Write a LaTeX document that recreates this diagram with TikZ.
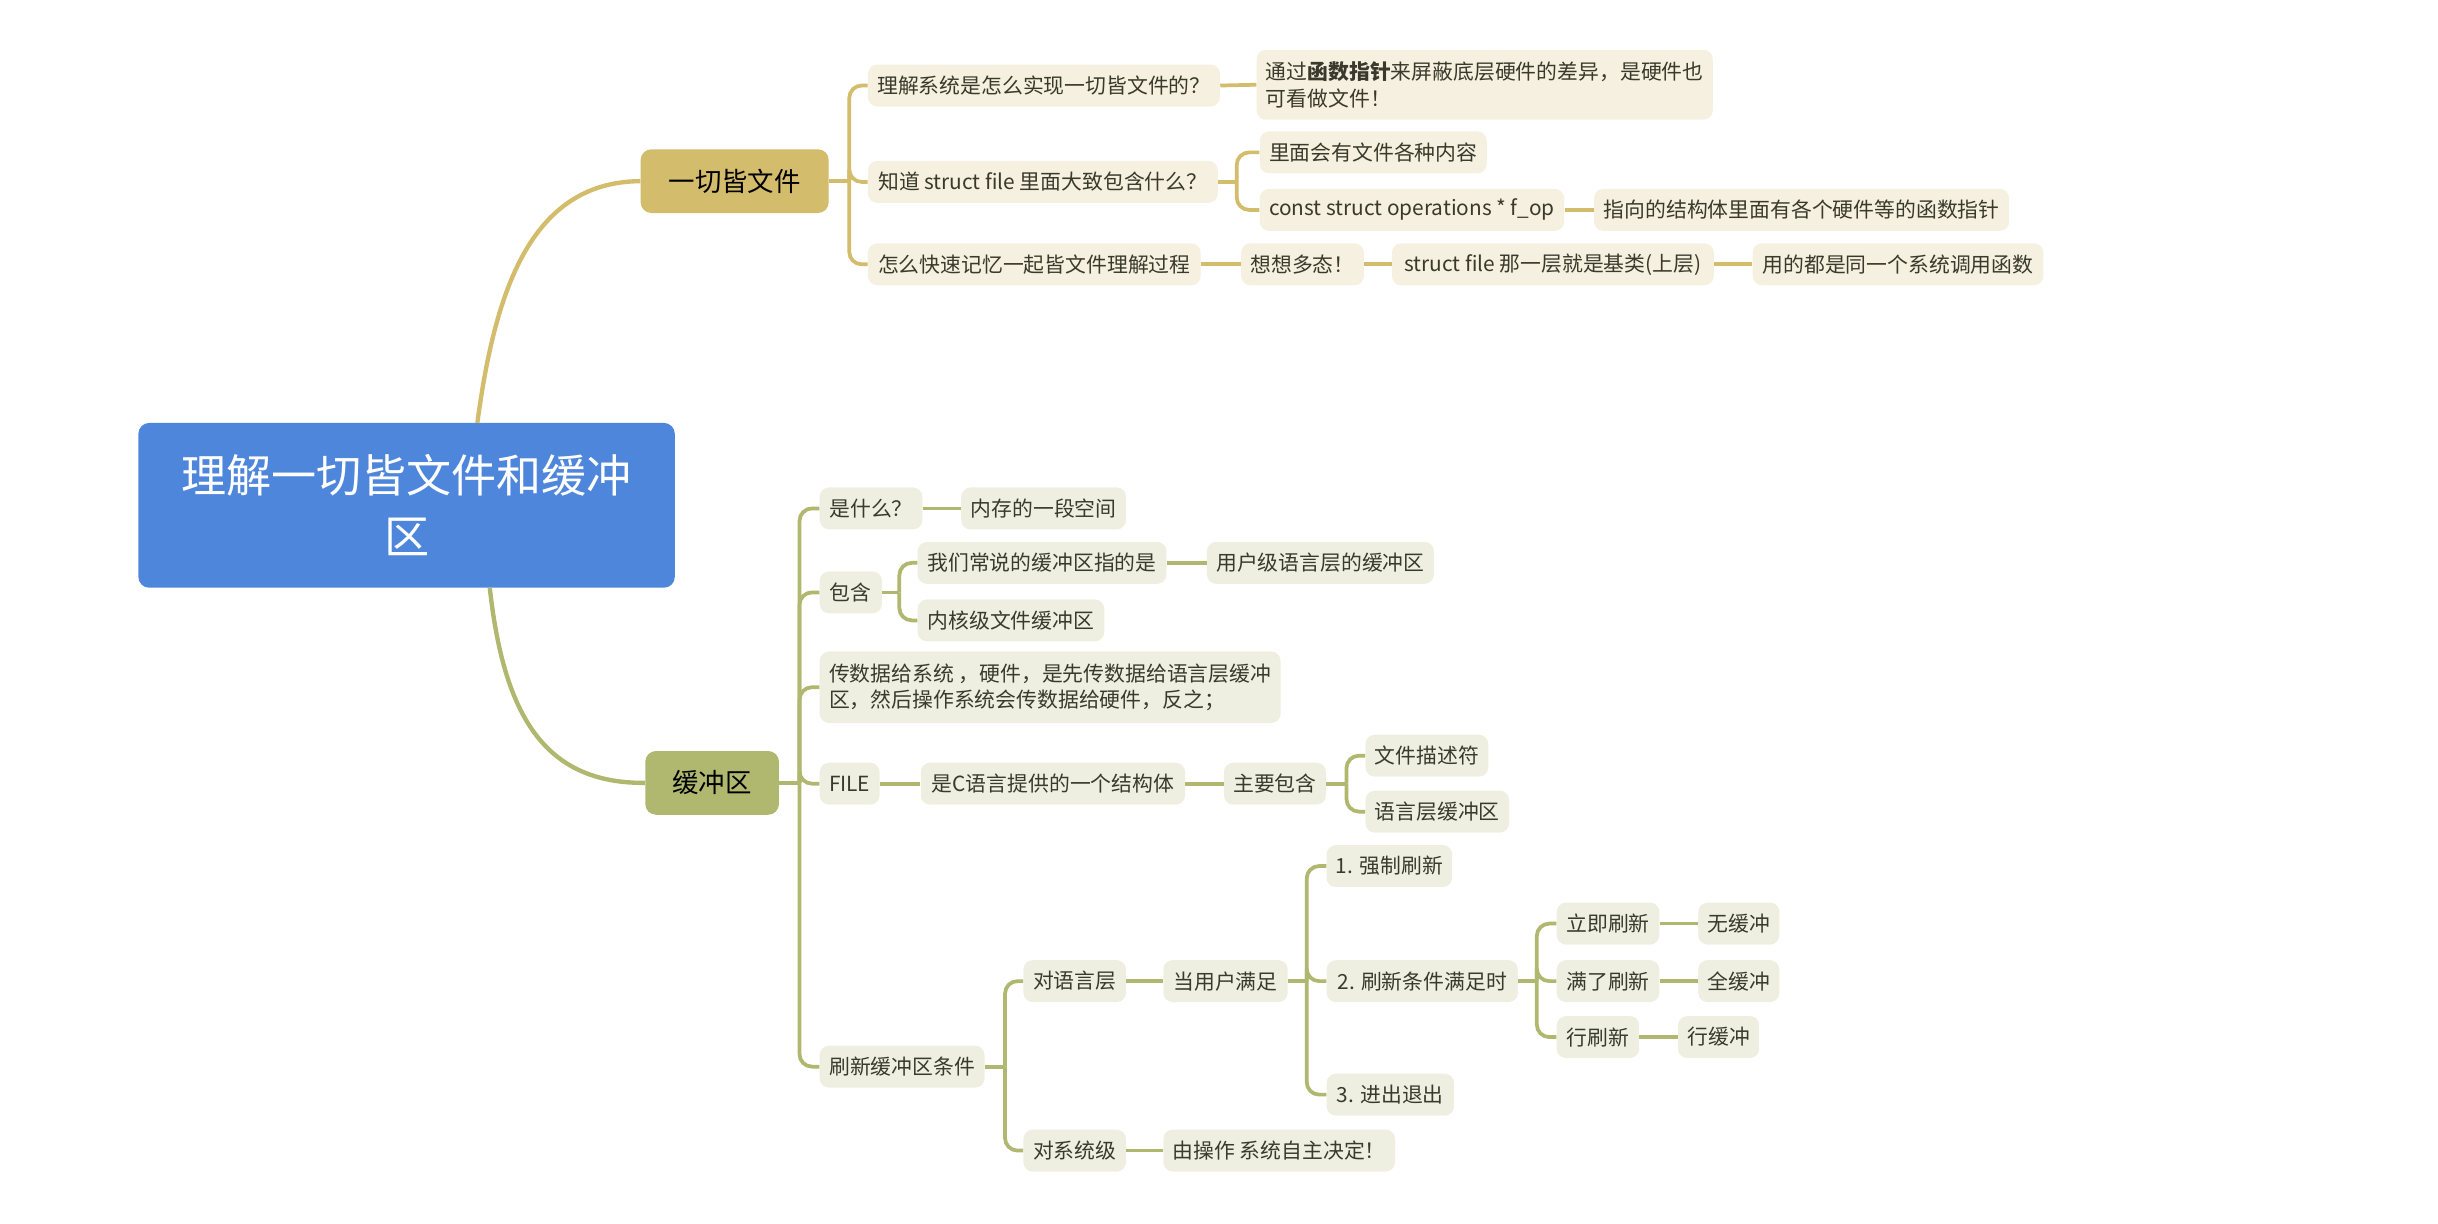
\documentclass[tikz,border=0pt]{standalone}
\usepackage{fontspec}
\setmainfont{Noto Sans CJK SC}
\definecolor{gold}{HTML}{D3BC6C}
\definecolor{olive}{HTML}{B0B76E}
\definecolor{gcream}{HTML}{F5F0DF}
\definecolor{ocream}{HTML}{EFEFE1}
\definecolor{txt}{HTML}{3A3A2C}
\definecolor{rootblue}{HTML}{4E86DB}
\tikzset{
  base/.style={rounded corners=6pt, minimum height=27pt, inner xsep=6pt, inner ysep=2pt, anchor=west, text=txt, font=\fontsize{13.4}{17}\selectfont, align=left},
  gb/.style={base, fill=gcream},
  ob/.style={base, fill=ocream},
  gl/.style={draw=gold, line width=2.4pt, rounded corners=8pt},
  ol/.style={draw=olive, line width=2.4pt, rounded corners=8pt},
}
\begin{document}
\begin{tikzpicture}[x=1pt,y=-1pt]
\useasboundingbox (0,0) rectangle (1568,787);
% root and main
\node[fill=rootblue, rounded corners=7pt, minimum width=345pt, minimum height=106pt, text=white, align=center, font=\fontsize{29}{39}\selectfont] (root) at (261.5,325) {理解一切皆文件和缓冲\\区};
\node[fill=gold, rounded corners=7pt, minimum width=121pt, minimum height=41pt, text=black, font=\fontsize{17}{20}\selectfont] (m1) at (472.5,116.5) {一切皆文件};
\node[fill=olive, rounded corners=7pt, minimum width=86pt, minimum height=41pt, text=black, font=\fontsize{17}{20}\selectfont] (m2) at (458,503.5) {缓冲区};
\coordinate (rt) at (307,272);
\coordinate (rb) at (315,378);
\draw[draw=gold, line width=2.8pt] (rt) .. controls (318,190) and (340,117) .. (m1.west);
\draw[draw=olive, line width=2.8pt] (rb) .. controls (324,460) and (350,504) .. (m2.west);

% gold branch
\node[gb, minimum width=224pt] (g1) at (558,55) {理解系统是怎么实现一切皆文件的？};
\node[gb, minimum width=292pt, minimum height=45pt] (g1a) at (808,54.5) {通过\textbf{函数指针}来屏蔽底层硬件的差异，是硬件也\\可看做文件！};
\node[gb, minimum width=225pt] (g2) at (558,117) {知道 struct file 里面大致包含什么？};
\node[gb, minimum width=146pt] (g2a) at (810,98) {里面会有文件各种内容};
\node[gb, minimum width=190pt] (g2b) at (810,135) {const struct operations * f\_op};
\node[gb, minimum width=267pt] (g2b1) at (1025,135) {指向的结构体里面有各个硬件等的函数指针};
\node[gb, minimum width=214pt] (g3) at (558,170) {怎么快速记忆一起皆文件理解过程};
\node[gb, minimum width=72pt] (g3a) at (798,170) {想想多态！};
\node[gb, minimum width=207pt] (g3b) at (895,170) {struct file 那一层就是基类(上层)};
\node[gb, minimum width=187pt] (g3c) at (1127,170) {用的都是同一个系统调用函数};

\draw[gl] (m1.east) -- ++(13,0) coordinate (jm1);
\foreach \c in {g1,g2,g3} \draw[gl] (jm1) |- (\c.west);
\draw[gl] (g1.east) -- (g1a.west);
\draw[gl] (g2.east) -- ++(12,0) coordinate (jg2);
\foreach \c in {g2a,g2b} \draw[gl] (jg2) |- (\c.west);
\draw[gl] (g2b.east) -- (g2b1.west);
\draw[gl] (g3.east) -- (g3a.west);
\draw[gl] (g3a.east) -- (g3b.west);
\draw[gl] (g3b.east) -- (g3c.west);

% olive branch
\node[ob, minimum width=66pt] (o1) at (527,327) {是什么？};
\node[ob, minimum width=106pt] (o1a) at (618,327) {内存的一段空间};
\node[ob, minimum width=40pt] (o2) at (527,381) {包含};
\node[ob, minimum width=160pt] (o2a) at (590,362) {我们常说的缓冲区指的是};
\node[ob, minimum width=145pt] (o2a1) at (776,362) {用户级语言层的缓冲区};
\node[ob, minimum width=120pt] (o2b) at (590,399) {内核级文件缓冲区};
\node[ob, minimum width=292pt, minimum height=46pt] (o3) at (527,442) {传数据给系统 ，硬件，是先传数据给语言层缓冲\\区，然后操作系统会传数据给硬件，反之；};
\node[ob, minimum width=38pt] (o4) at (527,504) {FILE};
\node[ob, minimum width=170pt] (o4a) at (592,504) {是C语言提供的一个结构体};
\node[ob, minimum width=65pt] (o4b) at (787,504) {主要包含};
\node[ob, minimum width=79pt] (o4b1) at (878,486) {文件描述符};
\node[ob, minimum width=92pt] (o4b2) at (878,522) {语言层缓冲区};
\node[ob, minimum width=106pt] (o5) at (527,686) {刷新缓冲区条件};
\node[ob, minimum width=66pt] (o5a) at (658,631) {对语言层};
\node[ob, minimum width=80pt] (o5a1) at (748,631) {当用户满足};
\node[ob, minimum width=80pt] (p1) at (853,557) {1. 强制刷新};
\node[ob, minimum width=123pt] (p2) at (853,631) {2. 刷新条件满足时};
\node[ob, minimum width=82pt] (p3) at (853,704) {3. 进出退出};
\node[ob, minimum width=66pt] (q1) at (1001,594) {立即刷新};
\node[ob, minimum width=52pt] (q1a) at (1092,594) {无缓冲};
\node[ob, minimum width=66pt] (q2) at (1001,631) {满了刷新};
\node[ob, minimum width=52pt] (q2a) at (1092,631) {全缓冲};
\node[ob, minimum width=53pt] (q3) at (1001,667) {行刷新};
\node[ob, minimum width=52pt] (q3a) at (1079,667) {行缓冲};
\node[ob, minimum width=66pt] (o5b) at (658,740) {对系统级};
\node[ob, minimum width=143pt] (o5b1) at (748,740) {由操作 系统自主决定！};

\draw[ol] (m2.east) -- ++(13,0) coordinate (jm2);
\foreach \c in {o1,o2,o3,o4,o5} \draw[ol] (jm2) |- (\c.west);
\draw[ol] (o1.east) -- (o1a.west);
\draw[ol] (o2.east) -- ++(11,0) coordinate (jo2);
\foreach \c in {o2a,o2b} \draw[ol] (jo2) |- (\c.west);
\draw[ol] (o2a.east) -- (o2a1.west);
\draw[ol] (o4.east) -- (o4a.west);
\draw[ol] (o4a.east) -- (o4b.west);
\draw[ol] (o4b.east) -- ++(13,0) coordinate (jo4b);
\foreach \c in {o4b1,o4b2} \draw[ol] (jo4b) |- (\c.west);
\draw[ol] (o5.east) -- ++(13,0) coordinate (jo5);
\foreach \c in {o5a,o5b} \draw[ol] (jo5) |- (\c.west);
\draw[ol] (o5a.east) -- (o5a1.west);
\draw[ol] (o5a1.east) -- ++(12,0) coordinate (jp);
\foreach \c in {p1,p2,p3} \draw[ol] (jp) |- (\c.west);
\draw[ol] (p2.east) -- ++(12,0) coordinate (jq);
\foreach \c in {q1,q2,q3} \draw[ol] (jq) |- (\c.west);
\draw[ol] (q1.east) -- (q1a.west);
\draw[ol] (q2.east) -- (q2a.west);
\draw[ol] (q3.east) -- (q3a.west);
\draw[ol] (o5b.east) -- (o5b1.west);
\end{tikzpicture}
\end{document}
